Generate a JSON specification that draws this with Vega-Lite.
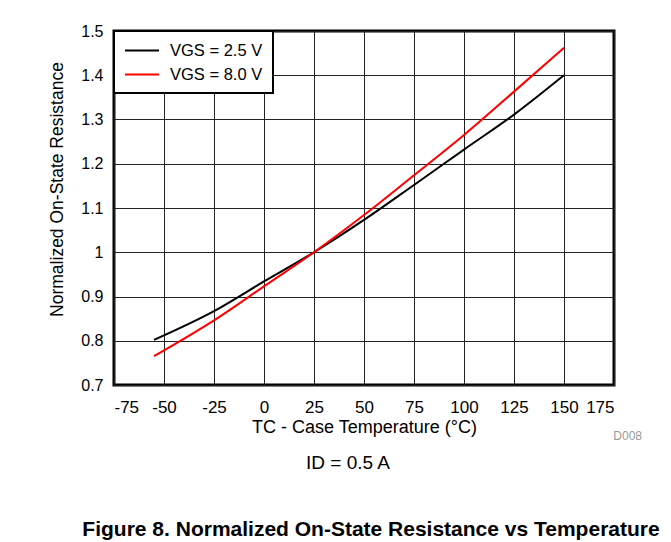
{
  "$schema": "https://vega.github.io/schema/vega-lite/v6.json",
  "width": 500,
  "height": 354,
  "autosize": {"type": "none"},
  "padding": {"left": 114, "top": 31, "right": 57, "bottom": 157},
  "background": "white",
  "config": {
    "font": "Liberation Sans",
    "view": {"stroke": "black", "strokeWidth": 3},
    "axis": {
      "labelFont": "Liberation Sans",
      "titleFont": "Liberation Sans",
      "labelFontSize": 16,
      "titleFontSize": 17,
      "labelColor": "black",
      "titleColor": "black",
      "titleFontWeight": "normal",
      "gridColor": "#222",
      "gridOpacity": 1,
      "gridWidth": 1,
      "domain": false,
      "ticks": false
    }
  },
  "title": {
    "text": "Figure 8. Normalized On-State Resistance vs Temperature",
    "orient": "bottom",
    "anchor": "middle",
    "dx": 7,
    "offset": 46,
    "font": "Liberation Sans",
    "fontSize": 21,
    "fontWeight": "bold",
    "color": "black"
  },
  "data": {
    "values": [
      {"T": -55, "R": 0.802, "s": "VGS = 2.5 V"},
      {"T": -25, "R": 0.867, "s": "VGS = 2.5 V"},
      {"T": 0, "R": 0.934, "s": "VGS = 2.5 V"},
      {"T": 25, "R": 1.0, "s": "VGS = 2.5 V"},
      {"T": 50, "R": 1.073, "s": "VGS = 2.5 V"},
      {"T": 75, "R": 1.152, "s": "VGS = 2.5 V"},
      {"T": 100, "R": 1.232, "s": "VGS = 2.5 V"},
      {"T": 125, "R": 1.311, "s": "VGS = 2.5 V"},
      {"T": 150, "R": 1.4, "s": "VGS = 2.5 V"},
      {"T": -55, "R": 0.765, "s": "VGS = 8.0 V"},
      {"T": -25, "R": 0.846, "s": "VGS = 8.0 V"},
      {"T": 0, "R": 0.923, "s": "VGS = 8.0 V"},
      {"T": 25, "R": 1.0, "s": "VGS = 8.0 V"},
      {"T": 50, "R": 1.084, "s": "VGS = 8.0 V"},
      {"T": 75, "R": 1.174, "s": "VGS = 8.0 V"},
      {"T": 100, "R": 1.265, "s": "VGS = 8.0 V"},
      {"T": 125, "R": 1.363, "s": "VGS = 8.0 V"},
      {"T": 150, "R": 1.462, "s": "VGS = 8.0 V"}
    ]
  },
  "layer": [
    {
      "mark": {"type": "line", "strokeWidth": 2, "interpolate": "monotone"},
      "encoding": {
        "x": {
          "field": "T", "type": "quantitative",
          "scale": {"domain": [-75, 175], "nice": false, "zero": false},
          "axis": {"values": [-75, -50, -25, 0, 25, 50, 75, 100, 125, 150, 175], "labelExpr": "replace(datum.label, '−', '-')", "labelFontSize": 17, "labelPadding": 14, "title": "TC - Case Temperature (°C)", "titleFontSize": 18, "titlePadding": 3}
        },
        "y": {
          "field": "R", "type": "quantitative",
          "scale": {"domain": [0.7, 1.5], "nice": false, "zero": false},
          "axis": {"values": [0.7, 0.8, 0.9, 1.0, 1.1, 1.2, 1.3, 1.4, 1.5], "format": ".1~f", "labelPadding": 11, "title": "Normalized On-State Resistance", "titleFontSize": 17.5, "titlePadding": 14, "titleY": 158}
        },
        "color": {
          "field": "s", "type": "nominal",
          "scale": {"domain": ["VGS = 2.5 V", "VGS = 8.0 V"], "range": ["black", "#ff0000"]},
          "legend": {
            "title": null,
            "orient": "top-left",
            "offset": 0,
            "padding": 10,
            "fillColor": "white",
            "strokeColor": "black",
            "symbolType": "M-1,0H3",
            "symbolSize": 289,
            "symbolStrokeWidth": 2,
            "labelFontSize": 16.5,
            "labelFont": "Liberation Sans",
            "labelColor": "black",
            "rowPadding": 6,
            "labelOffset": 27,
            "encode": {"legend": {"update": {"strokeWidth": {"value": 2}}}}
          }
        }
      }
    },
    {
      "data": {"values": [{"T": 175, "R": 0.7, "t": "D008"}]},
      "mark": {"type": "text", "align": "right", "baseline": "middle", "dx": 28, "dy": 51, "fontSize": 12, "color": "#999999"},
      "encoding": {
        "x": {"field": "T", "type": "quantitative"},
        "y": {"field": "R", "type": "quantitative"},
        "text": {"field": "t"}
      }
    },
    {
      "data": {"values": [{"T": 42, "R": 0.7, "t": "ID = 0.5 A"}]},
      "mark": {"type": "text", "align": "center", "baseline": "middle", "dy": 78, "fontSize": 19, "color": "black"},
      "encoding": {
        "x": {"field": "T", "type": "quantitative"},
        "y": {"field": "R", "type": "quantitative"},
        "text": {"field": "t"}
      }
    }
  ]
}
